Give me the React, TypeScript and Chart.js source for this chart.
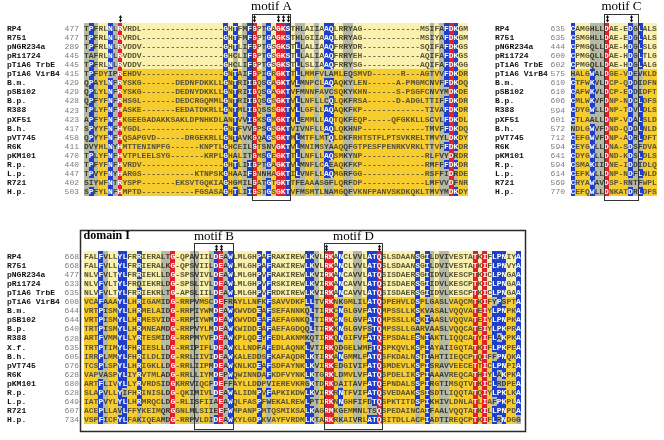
import React, { useEffect, useRef } from "react";
import { Chart, registerables } from "chart.js";
Chart.register(...registerables);

// ---------------- DATA ----------------
const topNames = ["RP4", "R751", "pNGR234a", "pRi1724", "pTiA6 TrbE", "pTiA6 VirB4", "B.m.", "pSB102", "B.p.", "R388", "pXF51", "B.h.", "pVT745", "R6K", "pKM101", "R.p.", "L.p.", "R721", "H.p."];
const bottomNames = ["RP4", "R751", "pNGR234a", "pRi1724", "pTiA6 TrbE", "pTiA6 VirB4", "B.m.", "pSB102", "B.p.", "R388", "X.f.", "B.h.", "pVT745", "R6K", "pKM101", "R.p.", "L.p.", "R721", "H.p."];

const topLeftStarts = [477, 477, 289, 445, 445, 415, 429, 429, 428, 423, 423, 417, 458, 411, 470, 440, 447, 402, 503];
const topRightStarts = [635, 635, 444, 600, 602, 575, 610, 610, 606, 594, 601, 572, 712, 594, 641, 594, 614, 569, 770];
const bottomStarts = [668, 668, 477, 633, 635, 608, 644, 644, 640, 628, 635, 605, 676, 628, 680, 628, 649, 607, 734];

const topLeftSeqs = [
  "TPFRLNLRVRDL-----------------GHTFMFGPTGAGKSTHLAIIAAQLRRYAG------------MSIFAFDKGM",
  "TPFRLNLRVRDL-----------------GHTFMFGPTGAGKSTHLGIIAAQLRRYAG------------MSIYAFDKGM",
  "TPFRLNLRVDDV-----------------GHTLIFGPTGSGKSTLLALIAAQFRRYDR------------SQIFAFDKGS",
  "TAFRLNLRVDDV-----------------GHCLIFGPTGSGKSTLLALIAAQFRRYEH------------AQIFAFDKGS",
  "TPFRLNLRVDDV-----------------GHCLIFGPTGSGKSTLLSLIAAQFRRYSG------------AQIFAFDKGG",
  "TPFDYIPREHDV-----------------GNTAIFGPIGRGKTTLLMMFVLAMLEQSMVD------R---AGTVVFDKDR",
  "QPAYLNFRYSKG-------DEDNFDKKLLGNTRIIGQSGAGKTVLMNPCLAQAQKYLEN------A-PMGMCNVFFDKDQ",
  "QPLYLNFRYSKG-------DEDNYDKKLLGNTRIIGQSGAGKTVFMNNFAVCSQKYKHN------S-PSGFCNVYMDKDE",
  "QPFYFNFRHSGL-------DEDCRGQMMLGNTRIIGQSGSGKTVLLNFLLCQLQKFRSA------D-ADGLTTIFFDKDR",
  "TPLYFNFHASKE-------EEDATDKRLLGNTMLIGQSSSGKTVLLGFLLAQAQKFKP-------------TIVAFDKDR",
  "APFYFNFHKGEEGADAKKSAKLDPNHKDLANTVVIGKSGMGKTVLEMMLLAQTQKFEQP-----QFGKKLLSCVLFDKDL",
  "SPYYFNFHYGDL-----------------GNTFVVGPSGSGKTVIVNFLLAQLQKHNP-------------TMVFFDKDQ",
  "QPYYFNFHQSAPGVD------DRGEKRLLGNTAVKGQAGSGKTMLMTFLMTQLDKFRHTSTFLPTSVKRELTMVYLDKDY",
  "DVYHLNYHMTTENINPFG------KNPTLGHCEILGTSNVGKTVLMNIMSYAAQQFGTPESFPENRKVRKLTTVFFDKDR",
  "TPLYFNFHVTPLEELSYG-------KRPLGHALITGMSGEGKTTLLNFLLAQSMKYNP-------------RLFVYDRDR",
  "TPFYFNFHVRDV-----------------GHTLIIGPTGAGKTVLMNFLCAEAQKFKP-------------RMFFFDKDR",
  "TPVYFNYHARGS-----------KTNPSKGHAAIFGNNHAGKTILVNFLLAQMGRFGG-------------RSFFIDRDE",
  "SIYWFNTRYSPP-------EKSVTGQKIAGHGMILGATGTGKTTFEAAASGFLQRFDP-------------LMFVVDFNR",
  "SPFYLNFHMPTD-----------FGSASAGHTLIIGSTGSGKTVFMSMTLNAMGQFVKNFPANVSKDKQKLTMVYMDKDY",
];

const topRightSeqs = [
  "CAMGHLLDAE-EDGLALS",
  "CSMGHLLDAE-EDGLALS",
  "CPMGQLLDAE-HDGLSLG",
  "CPMGQLLDAE-HDGLTLG",
  "CPMGQLLDAE-HDGLALG",
  "HALGWALDGE-VDEVKLD",
  "CTFWKVLDCP-QDDIDFN",
  "CAFWKVLDCP-EDDIDFT",
  "CMLWKVFDNP-NDCLDFS",
  "CDYGWLLDNP-TDVLDLS",
  "CTLAALLDNP-VDALSLD",
  "NDLGWVFDND-QDDLNLD",
  "CEFGWVFDNP-ADRLDFT",
  "CEYGWLLDNA-SDSFDVA",
  "CDYGWLLDND-KDSLDLS",
  "CSMAKIIDNE-IDDIDLQ",
  "CEFKWLLDNP-NDFLNLD",
  "CRYAWAVDSP-RNTFWPL",
  "CEFQWLLDNKATDRLDFS",
];

const bottomSeqs = [
  "FALFVLLYLFRRIERALTG-QPAVIILDEAWLMLGHPAFRAKIREWLKVLRKANCLVVLATQSLSDAANSGILDVIVESTATKIFLPNIYA",
  "FALFVLLYLFRRIERALKG-QPSVIILDEAWLMLGHPAFRAKIREWLKVLRKANCLVVLATQSLSDAANSGILDVIVESTATKIFLPNVYA",
  "NLVFVLTYLFRRIEKLLDG-SPSVIVLDEAWLMLGHPVFRAKIREWLKVIRKANCAVVLATQSISDAERSGIIDVLKESCPTKICLPNGAA",
  "NLVFVLTYLFRQIEKRLDG-SPSLIVLDEAWLMLGHPVFRSKIREWLKVIRKANCAVVLATQSISDAERSGIIDVLKESCPTKICLPNGAA",
  "NLVFVLTYLFRRIEKRLTG-APSLIILDEAWLMLGHPVFRDKIREWLKVIRKANCAVVLATQSISDAERSGIIDVLKESCPTKICLPNGAA",
  "VCAFAAAYLLHRIGAMIDG-RRPVMSCDEFRAYLLNFKFSAVVDKFLLTVRKNKGMLILATQDPEHVLDSPLGASLVAQCMTKIFYPSPTA",
  "VRTPISMYLLHRMELAIDG-RRPIYWMDEAWKWVDDEAFSEFANNKQLTIRKCNGLGVFATQMPSSLLKSKVASALVQQVATEIYLPNPKA",
  "VRTPISMYLLHRMESVIDG-RRPIYWMDEAWKWVDDEAFAEFAGNKQLTIRKCNGLGVFATQMPSSLLKSKIAASLVQQVATEIYLPNPKA",
  "TRTPISMYLLHRMNEAMDG-RRPVYLMDEAWKWIDDEAFAEFAGDQQLTIRKKNGLGVFSTQMPSSLLGARVAASLVQQCATEIYLPKPRA",
  "ARTFVMMYLLYRTESMIDG-RRPMYVFDEAWKPLQDEYFEDLAKNMKQTIRKQNGIFVFATQEPSDALESNIAKTLIQQCATYIFLAKPKA",
  "TRTPTIMYLFHRIESLLDG-RRIPIFLDEAWKLLNDFAFEDLAQNKLVTIRKQDGELWMFTQSPKQVLKSPIAYAIIGQTATKIFLPKPEA",
  "IRRPLMMYLFHRILDLIDG-RRLIIVIDEAWKALEDDSFKAFAQDRLKTIRKANGMMLFATQSFKDALNSTIAHTIIEQCPTQIFFPNQKA",
  "TCSPLSPYLLHRIGKLLDG-RRLIIPMDEAWKNLKDEAFSDFAYNKLKVIRKEDGIVIFATQSMDEVLKSPISRAVVEECETTICLPNPIA",
  "VAPVASPYLIYRVTMLADG-RRLLIYMDEPWQWINNDAFKDFVYNKLKTGRKLDMVLVFATQSPDELIKSPIAAAVREQCATHIYLAKPKA",
  "ARTFLIVYLLYRVRDSIDGKRRVIQCFDEFFAYLLDDPVIEREVKRGKTDRKDAITAVFATQEPNDALSSPIRGTIMSQTVTKICLRDPEA",
  "SLAPVLLYIFHRINISLDG-QKIMIVLDEAWALIDNPVFAPKIKDWLKVIRKRNTFVIFATQSVEDAAKSSISDTLIQQTATQIYLPKLKA",
  "IATPVYLYLLHRMRQCLDG-RLISFIIAEAWQLFASPFWEKALREWLPTIRKNNGHFIFDTQSPKTITDSPIKHIVLDNLATLIAFPKPLA",
  "ACEPLLAVLFFYKEIMQRGGNLMLSIIEEFWMPANPPMTQSMIKSALKAGRMKGEMMNLTSQSPEDAINCAIFAALVQQTATKILLPNPDA",
  "VSPFICFYLFAKIQEAMDG-RRPVLDIDEAWKYLGDPKVAYFVRDMLKTARKRKAIVRLATQSITDLLACPIADTIREQCPTKIFLRNDGG",
];

// conservation classes per column (B = identical/blue, R = invariant/red, G = similar/gray)
const topLeftBlueCols = [1, 5, 29, 31, 34, 38, 42, 44, 50, 51, 75, 77];
const topLeftRedCols = [7, 35, 40, 41, 76];
const topLeftGrayCols = [0, 2, 6, 33, 37, 45, 48, 54, 55, 72, 74];
const topRightBlueCols = [0, 4, 12, 14];
const topRightRedCols = [7];
const topRightGrayCols = [5, 6, 13];
const bottomBlueCols = [3, 7, 8, 11, 27, 30, 36, 38, 46, 47, 53, 59, 60, 69, 71, 85, 86, 87, 90];
const bottomRedCols = [18, 28, 50, 51, 61, 81, 83];
const bottomGrayCols = [4, 16, 17, 22, 23, 26, 29, 48, 56, 57, 72, 74, 75];

// ---------------- LAYOUT / STYLE ----------------
const PAGE_W = 664;
const PAGE_H = 440;
const CELL_W = 4.8;
const ROW_H = 9.1;
const LIGHT_ROWS = 5;

const COL = {
  light: "#FBF1AE",
  gold: "#F7CC2E",
  gray: "#B6BAA4",
  blue: "#1D3FCC",
  red: "#E2202C",
  text: "#5A5535",
  grayText: "#3A3A30",
  white: "#FFFFFF",
  name: "#111111",
  num: "#7E7E7E",
  line: "#333333",
};

function buildClasses(n: number, blue: number[], red: number[], gray: number[]) {
  const a: string[] = new Array(n).fill(".");
  gray.forEach((i) => (a[i] = "G"));
  blue.forEach((i) => (a[i] = "B"));
  red.forEach((i) => (a[i] = "R"));
  return a;
}

type Block = {
  seqs: string[];
  names: string[];
  starts: number[];
  classes: string[];
  seqLeftPx: number;
  firstRowPx: number;
  nameLeftPx: number;
  numRightPx: number;
};

const blocks: Block[] = [
  {
    seqs: topLeftSeqs, names: topNames, starts: topLeftStarts,
    classes: buildClasses(80, topLeftBlueCols, topLeftRedCols, topLeftGrayCols),
    seqLeftPx: 84, firstRowPx: 28, nameLeftPx: 7, numRightPx: 79,
  },
  {
    seqs: topRightSeqs, names: topNames, starts: topRightStarts,
    classes: buildClasses(18, topRightBlueCols, topRightRedCols, topRightGrayCols),
    seqLeftPx: 570.5, firstRowPx: 28, nameLeftPx: 495, numRightPx: 565,
  },
  {
    seqs: bottomSeqs, names: bottomNames, starts: bottomStarts,
    classes: buildClasses(91, bottomBlueCols, bottomRedCols, bottomGrayCols),
    seqLeftPx: 84, firstRowPx: 256, nameLeftPx: 7, numRightPx: 79,
  },
];

// boxes: block index, column range [c1, c2), vertical extent in px
const motifBoxes = [
  { label: "motif A", block: 0, c1: 35, c2: 43, top: 13.5, bottom: 199.5, labelY: 7 },
  { label: "motif C", block: 1, c1: 7, c2: 14, top: 13.5, bottom: 200, labelY: 7 },
  { label: "motif B", block: 2, c1: 23, c2: 31, top: 243, bottom: 429, labelY: 237 },
  { label: "motif D", block: 2, c1: 50, c2: 62, top: 243, bottom: 429, labelY: 237 },
];
const arrows = [
  { block: 0, col: 7, y1: 15, y2: 22.5 },
  { block: 0, col: 35, y1: 15, y2: 22.5 },
  { block: 0, col: 40, y1: 15, y2: 22.5 },
  { block: 0, col: 41, y1: 15, y2: 22.5 },
  { block: 0, col: 42, y1: 15, y2: 22.5 },
  { block: 1, col: 7, y1: 15, y2: 22.5 },
  { block: 1, col: 12, y1: 15, y2: 22.5 },
  { block: 2, col: 27, y1: 244.5, y2: 251.5 },
  { block: 2, col: 28, y1: 244.5, y2: 251.5 },
  { block: 2, col: 50, y1: 244.5, y2: 251.5 },
  { block: 2, col: 61, y1: 244.5, y2: 251.5 },
];

const alignmentPlugin = {
  id: "alignment",
  afterDraw(chart: any) {
    const ctx: CanvasRenderingContext2D = chart.ctx;
    const xs = chart.scales.x;
    const ys = chart.scales.y;
    const X = (colUnits: number) => xs.getPixelForValue(colUnits);
    const Y = (rowUnits: number) => ys.getPixelForValue(rowUnits);
    const pxX = (p: number) => X(p / CELL_W);
    const pxY = (p: number) => Y(p / ROW_H);

    ctx.save();
    ctx.fillStyle = "#ffffff";
    ctx.fillRect(0, 0, PAGE_W, PAGE_H);

    blocks.forEach((b) => {
      const c0 = b.seqLeftPx / CELL_W;
      const r0 = b.firstRowPx / ROW_H;
      const n = b.classes.length;
      // residue counts per column
      const counts: Record<string, number>[] = [];
      for (let c = 0; c < n; c++) {
        const m: Record<string, number> = {};
        b.seqs.forEach((s) => {
          const ch = s[c];
          if (ch && ch !== "-") m[ch] = (m[ch] || 0) + 1;
        });
        counts.push(m);
      }
      b.seqs.forEach((seq, r) => {
        const yT = Math.round(Y(r0 + r - 0.5));
        const yB = Math.round(Y(r0 + r + 0.5));
        const yc = Y(r0 + r) + 0.5;
        const xL = Math.round(X(c0));
        const xR = Math.round(X(c0 + n));
        ctx.fillStyle = r < LIGHT_ROWS ? COL.light : COL.gold;
        ctx.fillRect(xL, yT, xR - xL, yB - yT);
        ctx.font = 'bold 8px "Liberation Mono"';
        ctx.textAlign = "center";
        ctx.textBaseline = "middle";
        for (let c = 0; c < n; c++) {
          const ch = seq[c] || "-";
          const cls = b.classes[c];
          let fill: string | null = null;
          let tc = COL.text;
          if (ch !== "-") {
            if (cls === "R") { fill = COL.red; tc = COL.white; }
            else if (cls === "B") {
              if ((counts[c][ch] || 0) >= 4) { fill = COL.blue; tc = COL.white; }
              else { fill = COL.gray; tc = COL.grayText; }
            } else if (cls === "G") { fill = COL.gray; tc = COL.grayText; }
          }
          const a = Math.round(X(c0 + c));
          const z = Math.round(X(c0 + c + 1));
          if (fill) {
            ctx.fillStyle = fill;
            ctx.fillRect(a, yT, z - a, yB - yT);
          }
          ctx.fillStyle = tc;
          ctx.fillText(ch, X(c0 + c + 0.5), yc);
        }
        // name and start number
        ctx.textAlign = "left";
        ctx.fillStyle = COL.name;
        ctx.font = 'bold 8px "Liberation Mono"';
        ctx.fillText(b.names[r], pxX(b.nameLeftPx), yc);
        ctx.textAlign = "right";
        ctx.fillStyle = COL.num;
        ctx.font = '8px "Liberation Mono"';
        ctx.fillText(String(b.starts[r]), pxX(b.numRightPx), yc);
      });
    });

    // domain I box
    {
      const b = blocks[2];
      const c0 = b.seqLeftPx / CELL_W;
      const left = Math.round(X(c0 - 0.85)) + 0.5;
      const right = Math.round(X(c0 + 91.85)) + 0.5;
      const top = Math.round(pxY(230)) + 0.5;
      const bottom = Math.round(pxY(431)) + 0.5;
      ctx.strokeStyle = "#2a2a2a";
      ctx.lineWidth = 1.5;
      ctx.strokeRect(left, top, right - left, bottom - top);
      ctx.fillStyle = "#000";
      ctx.font = 'bold 12px "Liberation Serif"';
      ctx.textAlign = "left";
      ctx.textBaseline = "middle";
      ctx.fillText("domain I", left + 3, pxY(236));
    }

    // motif boxes
    motifBoxes.forEach((m) => {
      const b = blocks[m.block];
      const c0 = b.seqLeftPx / CELL_W;
      const left = Math.round(X(c0 + m.c1)) + 0.5;
      const right = Math.round(X(c0 + m.c2)) + 0.5;
      const top = Math.round(pxY(m.top)) + 0.5;
      const bottom = Math.round(pxY(m.bottom)) + 0.5;
      ctx.strokeStyle = COL.line;
      ctx.lineWidth = 1;
      ctx.strokeRect(left, top, right - left, bottom - top);
      ctx.fillStyle = "#000";
      ctx.font = '13px "Liberation Serif"';
      ctx.textAlign = "center";
      ctx.textBaseline = "middle";
      ctx.fillText(m.label, (left + right) / 2, pxY(m.labelY));
    });

    // double-headed arrows
    arrows.forEach((a) => {
      const b = blocks[a.block];
      const c0 = b.seqLeftPx / CELL_W;
      const x = Math.round(X(c0 + a.col + 0.5)) + 0.5;
      const y1 = pxY(a.y1);
      const y2 = pxY(a.y2);
      ctx.strokeStyle = "#111";
      ctx.fillStyle = "#111";
      ctx.lineWidth = 1;
      ctx.beginPath();
      ctx.moveTo(x, y1 + 1);
      ctx.lineTo(x, y2 - 1);
      ctx.stroke();
      ctx.beginPath();
      ctx.moveTo(x, y1);
      ctx.lineTo(x - 1.8, y1 + 2.8);
      ctx.lineTo(x + 1.8, y1 + 2.8);
      ctx.closePath();
      ctx.fill();
      ctx.beginPath();
      ctx.moveTo(x, y2);
      ctx.lineTo(x - 1.8, y2 - 2.8);
      ctx.lineTo(x + 1.8, y2 - 2.8);
      ctx.closePath();
      ctx.fill();
    });

    ctx.restore();
  },
};

export default function App() {
  const ref = useRef<HTMLCanvasElement | null>(null);
  useEffect(() => {
    if (!ref.current) return;
    const chart = new Chart(ref.current, {
      type: "scatter",
      data: { datasets: [{ data: [], pointRadius: 0 }] },
      options: {
        responsive: false,
        animation: false,
        devicePixelRatio: 1,
        layout: { padding: 0 },
        plugins: { legend: { display: false }, tooltip: { enabled: false } },
        events: [],
        scales: {
          x: { type: "linear", min: 0, max: PAGE_W / CELL_W, display: false },
          y: { type: "linear", min: 0, max: PAGE_H / ROW_H, reverse: true, display: false },
        },
      },
      plugins: [alignmentPlugin],
    } as any);
    return () => chart.destroy();
  }, []);
  return (
    <div style={{ position: "absolute", left: 0, top: 0, width: PAGE_W, height: PAGE_H, background: "#fff" }}>
      <canvas ref={ref} width={PAGE_W} height={PAGE_H} style={{ display: "block", width: PAGE_W, height: PAGE_H }} />
    </div>
  );
}
